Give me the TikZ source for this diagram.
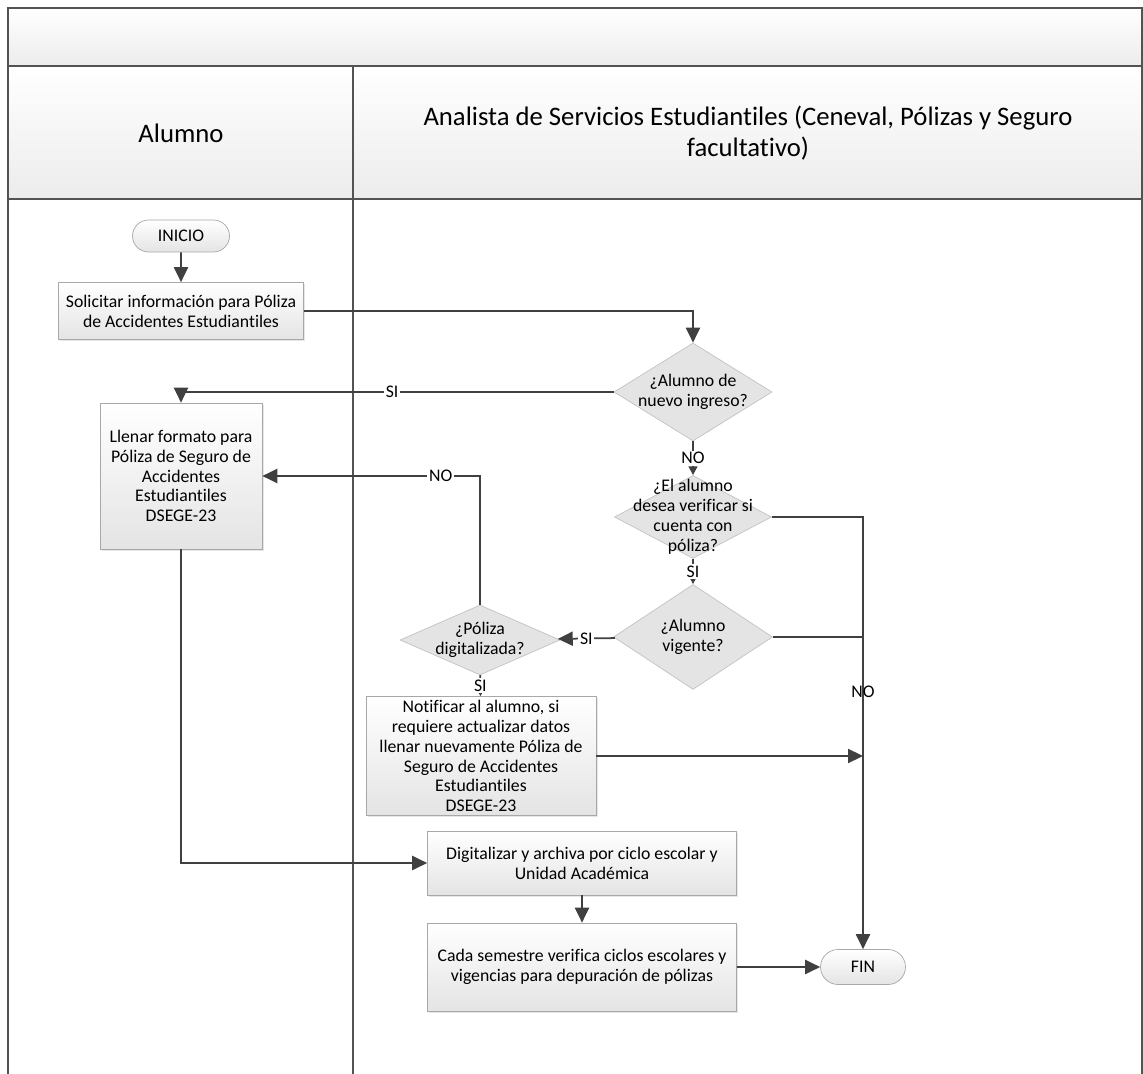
\documentclass[tikz,border=0pt]{standalone}
\usepackage{fontspec}
\setmainfont{Carlito}[Ligatures=NoCommon]
\usetikzlibrary{shapes.geometric,shapes.misc,arrows.meta,positioning,shadows}

\definecolor{linegray}{HTML}{404040}
\definecolor{edgegray}{HTML}{A8A8A8}
\definecolor{boxfill}{HTML}{E4E4E4}
\definecolor{headfill}{HTML}{ECECEC}

\newcommand{\boxfont}{\fontsize{10.1}{11.3}\selectfont}
\newcommand{\headfont}{\fontsize{15.2}{17.5}\selectfont}

\begin{document}
\begin{tikzpicture}[x=0.02cm,y=-0.02cm,
    proc/.style = {draw=edgegray, top color=white, bottom color=boxfill, align=center,
                   font=\boxfont, inner sep=2pt,
                   drop shadow={opacity=0.2, shadow xshift=1pt, shadow yshift=-1pt}},
    term/.style = {rounded rectangle, draw=edgegray, top color=white, bottom color=boxfill,
                   font=\boxfont, inner sep=2pt},
    deci/.style = {diamond, draw=edgegray!70, fill=boxfill, inner sep=0pt},
    flow/.style = {draw=linegray, line width=1pt, -{Triangle[length=8.5pt,width=8pt]}},
    short/.style = {draw=linegray, line width=1pt, -{Triangle[length=5pt,width=5pt]}},
    plain/.style = {draw=linegray, line width=1pt},
    lbl/.style = {fill=white, inner sep=1pt, font=\boxfont},
    lane/.style = {draw=linegray!90, line width=0.8pt}]
    \useasboundingbox (0,0) rectangle (1143,1074);

    % swimlane frame
    \fill[top color=white, bottom color=headfill] (8,8) rectangle (1142,66);
    \fill[top color=white, bottom color=headfill] (8,66) rectangle (1142,199);
    \draw[lane] (8,1074) -- (8,8) -- (1142,8) -- (1142,1074);
    \draw[lane] (8,66) -- (1142,66);
    \draw[lane] (8,199) -- (1142,199);
    \draw[lane] (353,66) -- (353,1074);
    \node[font=\headfont] (hAlumno) at (181,133) {Alumno};
    \node[font=\headfont, align=center] (hAnalista) at (748,133) {Analista de Servicios Estudiantiles (Ceneval, Pólizas y Seguro\\facultativo)};

    % alumno
    \node[term, minimum width=2.08cm, minimum height=0.64cm] (ini) at (181,236) {INICIO};
    \node[proc, minimum width=4.9cm, minimum height=1.14cm, node distance=1.5cm] (sol) [below of=ini] {Solicitar información para Póliza\\de Accidentes Estudiantiles};
    \node[proc, minimum width=3.24cm, minimum height=2.92cm] (lle) at (181,476) {Llenar formato para\\Póliza de Seguro de\\Accidentes\\Estudiantiles\\DSEGE-23};

    % analista
    \node[deci, minimum width=3.16cm, minimum height=1.96cm, label={[font=\boxfont, align=center]center:¿Alumno de\\nuevo ingreso?}] (d1) at (693,392) {};
    \node[deci, minimum width=3.14cm, minimum height=1.66cm, node distance=2.5cm, label={[font=\boxfont, align=center]center:¿El alumno\\desea verificar si\\cuenta con\\póliza?}] (d2) [below of=d1] {};
    \node[deci, minimum width=3.18cm, minimum height=2.1cm, node distance=2.4cm, label={[font=\boxfont, align=center]center:¿Alumno\\vigente?}] (d3) [below of=d2] {};
    \node[deci, minimum width=3.2cm, minimum height=1.4cm, label={[font=\boxfont, align=center]center:¿Póliza\\digitalizada?}] (d4) at (480,640) {};
    \node[proc, minimum width=4.6cm, minimum height=2.36cm] (noti) at (481,756) {Notificar al alumno, si\\requiere actualizar datos\\llenar nuevamente Póliza de\\Seguro de Accidentes\\Estudiantiles\\DSEGE-23};
    \node[proc, minimum width=6.18cm, minimum height=1.28cm] (dig) at (582,863) {Digitalizar y archiva por ciclo escolar y\\Unidad Académica};
    \node[proc, minimum width=6.18cm, minimum height=1.76cm, node distance=2.08cm] (cada) [below of=dig] {Cada semestre verifica ciclos escolares y\\vigencias para depuración de pólizas};
    \node[term, minimum width=1.84cm, minimum height=0.7cm] (fin) at (863,967) {FIN};

    % connectors
    \draw[flow] (ini) -- (sol);
    \draw[flow] (sol.east) -| (d1.north);
    \draw[flow] (d1.west) -| node[lbl, pos=0.256] {SI} (lle.north);
    \draw[short] (d1) -- node[lbl] {NO} (d2);
    \draw[flow] (d2.east) -| (fin.north);
    \draw[short] (d2) -- node[lbl] {SI} (d3);
    \draw[plain] (d3.east) -- (d3.east -| fin.north) node[font=\boxfont, yshift=-1.1cm] {NO};
    \draw[flow] (d3) -- node[lbl] {SI} (d4);
    \draw[flow] (d4.north) |- node[lbl, pos=0.59] {NO} (lle.east);
    \draw[short] (d4) -- node[lbl] {SI} (noti);
    \draw[flow] (noti.east) -- (noti.east -| fin.north);
    \draw[flow] (lle.south) |- (dig.west);
    \draw[flow] (dig) -- (cada);
    \draw[flow] (cada) -- (fin);
\end{tikzpicture}
\end{document}
